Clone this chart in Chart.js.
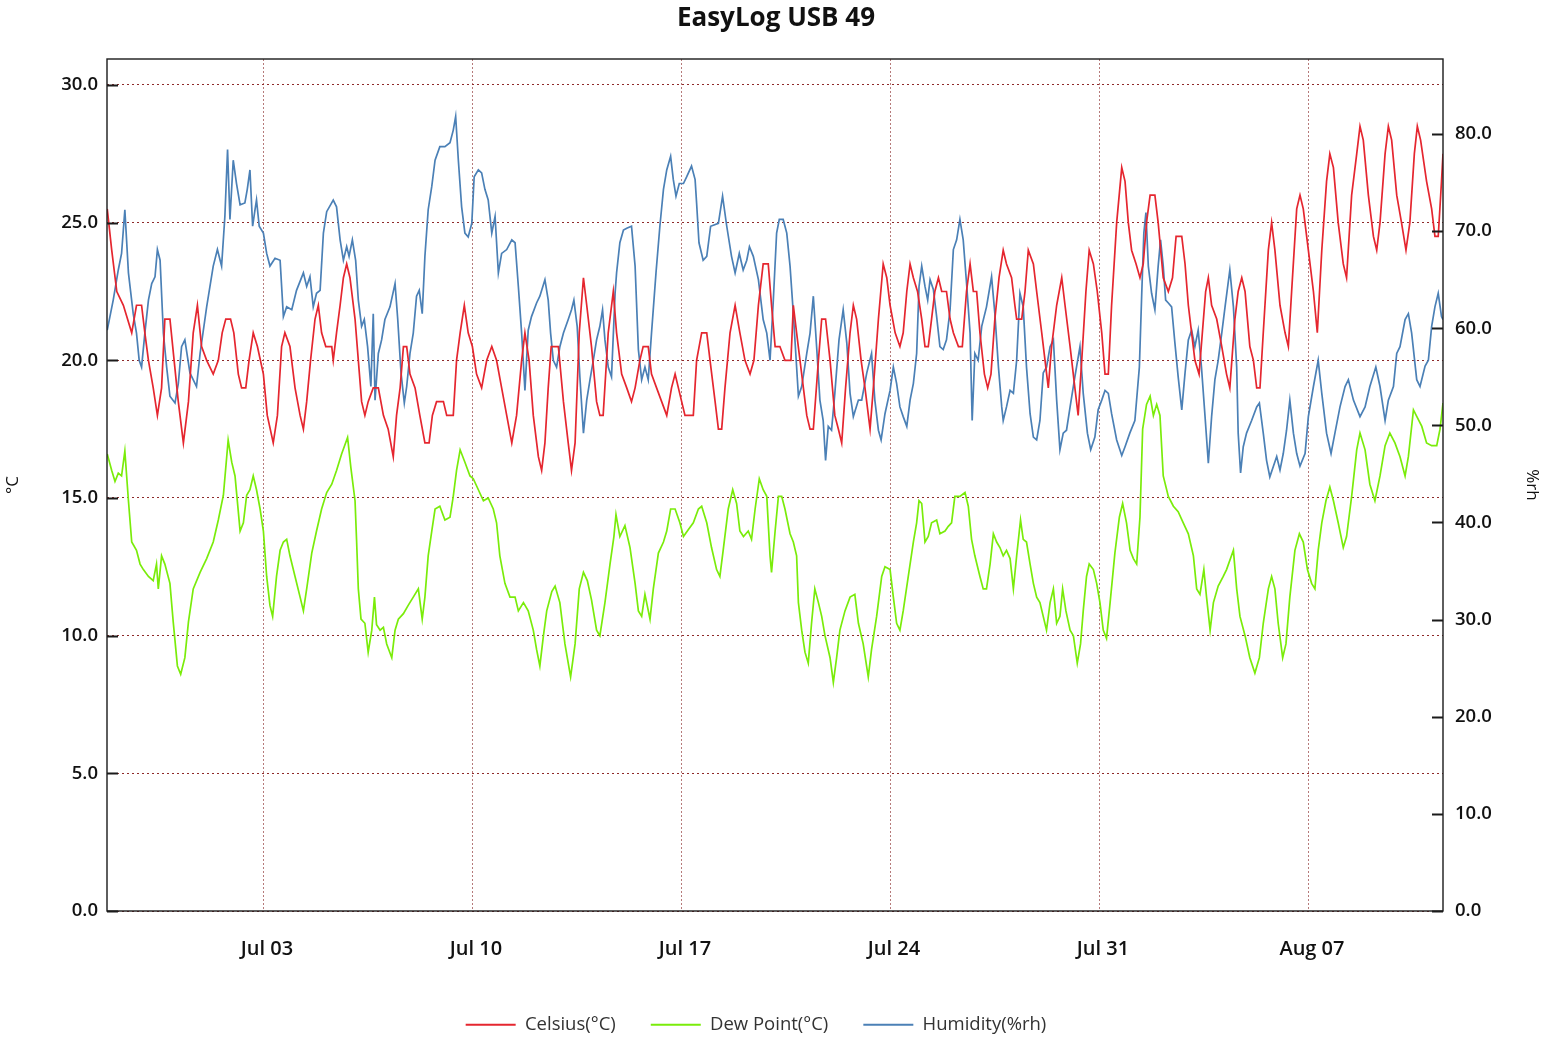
<!DOCTYPE html>
<html>
<head>
<meta charset="utf-8">
<title>EasyLog USB 49</title>
<script src="https://cdn.jsdelivr.net/npm/chart.js@4/dist/chart.umd.min.js"></script>
<style>
  html, body { margin: 0; padding: 0; background: #ffffff; }
  canvas { display: block; }
</style>
</head>
<body>
<canvas id="chart" width="1552" height="1048"></canvas>
<script>
// Time is given in days since 1 July 00:00 (Jul 03 00:00 = 2).
const xMin = -3.258;
const xMax = 41.49;
const tickDays = [2, 9, 16, 23, 30, 37];
const tickLabels = ['Jul 03', 'Jul 10', 'Jul 17', 'Jul 24', 'Jul 31', 'Aug 07'];
const tempTicks = [0, 5, 10, 15, 20, 25, 30];
const humidityTicks = [0, 10, 20, 30, 40, 50, 60, 70, 80];

// Celsius(°C)
const celsiusDays = [-3.25,-3.10,-2.93,-2.71,-2.43,-2.27,-2.10,-1.99,-1.87,-1.71,-1.57,-1.43,-1.32,-1.15,-1.01,-0.87,-0.70,-0.53,-0.37,-0.23,-0.09,0.08,0.30,0.47,0.60,0.72,0.88,0.99,1.14,1.25,1.39,1.50,1.64,1.78,1.98,2.11,2.31,2.45,2.59,2.70,2.87,3.04,3.21,3.32,3.43,3.56,3.71,3.82,3.93,4.07,4.27,4.32,4.43,4.55,4.66,4.77,4.88,5.05,5.16,5.27,5.38,5.49,5.66,5.83,6.00,6.16,6.33,6.44,6.56,6.67,6.78,6.89,7.06,7.22,7.39,7.53,7.64,7.78,8.01,8.12,8.34,8.45,8.57,8.71,8.84,8.98,9.12,9.29,9.46,9.63,9.79,9.96,10.13,10.30,10.46,10.63,10.74,10.88,11.02,11.19,11.30,11.41,11.52,11.62,11.86,12.03,12.19,12.30,12.42,12.56,12.70,12.81,12.97,13.14,13.25,13.36,13.53,13.70,13.81,13.98,14.15,14.31,14.43,14.59,14.70,14.87,14.98,15.15,15.32,15.49,15.65,15.77,15.88,15.99,16.10,16.38,16.49,16.66,16.83,16.94,17.11,17.22,17.33,17.44,17.61,17.78,17.94,18.11,18.28,18.41,18.56,18.72,18.89,19.00,19.12,19.28,19.45,19.65,19.73,19.84,20.01,20.18,20.29,20.40,20.57,20.68,20.81,20.96,21.12,21.24,21.35,21.48,21.63,21.74,21.85,22.00,22.13,22.30,22.41,22.58,22.74,22.86,22.97,23.14,23.30,23.41,23.53,23.64,23.75,23.89,24.03,24.14,24.25,24.36,24.47,24.59,24.70,24.86,24.98,25.09,25.26,25.39,25.53,25.65,25.76,25.87,25.98,26.13,26.24,26.35,26.48,26.62,26.76,26.87,27.04,27.15,27.21,27.38,27.49,27.60,27.77,27.88,28.05,28.16,28.27,28.38,28.55,28.72,28.83,29.00,29.16,29.27,29.39,29.53,29.64,29.78,29.91,30.06,30.17,30.28,30.39,30.56,30.73,30.84,30.95,31.06,31.21,31.34,31.45,31.56,31.68,31.84,31.95,32.12,32.29,32.43,32.55,32.74,32.85,32.96,33.07,33.18,33.32,33.43,33.54,33.63,33.74,33.91,34.08,34.24,34.35,34.52,34.63,34.75,34.86,35.02,35.14,35.25,35.36,35.47,35.64,35.75,35.86,36.03,36.20,36.31,36.42,36.59,36.70,36.81,36.98,37.15,37.28,37.43,37.59,37.70,37.82,37.98,38.15,38.26,38.43,38.60,38.71,38.82,38.99,39.16,39.27,39.38,39.55,39.66,39.77,39.94,40.10,40.25,40.38,40.53,40.63,40.74,40.94,41.11,41.22,41.33,41.44,41.49];
const celsiusValues = [25.5,24.0,22.5,22.0,21.0,22.0,22.0,21.0,20.0,19.0,18.0,19.0,21.5,21.5,20.0,18.5,17.0,18.5,21.0,22.0,20.5,20.0,19.5,20.0,21.0,21.5,21.5,21.0,19.5,19.0,19.0,20.0,21.0,20.5,19.5,18.0,17.0,18.0,20.5,21.0,20.5,19.0,18.0,17.5,18.5,20.0,21.5,22.0,21.0,20.5,20.5,20.0,21.0,22.0,23.0,23.5,23.0,21.5,20.0,18.5,18.0,18.5,19.0,19.0,18.0,17.5,16.5,18.0,19.0,20.5,20.5,19.5,19.0,18.0,17.0,17.0,18.0,18.5,18.5,18.0,18.0,20.0,21.0,22.0,21.0,20.5,19.5,19.0,20.0,20.5,20.0,19.0,18.0,17.0,18.0,20.0,21.0,20.0,18.0,16.5,16.0,17.0,19.0,20.5,20.5,18.5,17.0,16.0,17.0,21.0,23.0,22.0,20.5,18.5,18.0,18.0,21.0,22.5,21.0,19.5,19.0,18.5,19.0,20.0,20.5,20.5,19.5,19.0,18.5,18.0,19.0,19.5,19.0,18.5,18.0,18.0,20.0,21.0,21.0,20.0,18.5,17.5,17.5,19.0,21.0,22.0,21.0,20.0,19.5,20.0,22.0,23.5,23.5,22.0,20.5,20.5,20.0,20.0,22.0,21.0,19.5,18.0,17.5,17.5,20.0,21.5,21.5,20.0,18.0,17.5,17.0,19.0,21.0,22.0,21.5,20.0,19.0,17.5,19.0,21.5,23.5,23.0,22.0,21.0,20.5,21.0,22.5,23.5,23.0,22.5,21.5,20.5,20.5,21.5,22.5,23.0,22.5,22.5,21.5,21.0,20.5,20.5,22.5,23.5,22.5,22.5,21.0,19.5,19.0,19.5,21.5,23.0,24.0,23.5,23.0,22.0,21.5,21.5,22.5,24.0,23.5,22.5,21.0,20.0,19.0,20.5,22.0,23.0,22.0,20.5,19.0,18.0,20.0,22.5,24.0,23.5,22.5,21.0,19.5,19.5,22.0,25.0,27.0,26.5,25.0,24.0,23.5,23.0,23.5,25.0,26.0,26.0,25.0,23.0,22.5,23.0,24.5,24.5,23.5,22.0,21.0,20.0,19.5,21.0,22.5,23.0,22.0,21.5,20.5,19.5,19.0,21.5,22.5,23.0,22.5,20.5,20.0,19.0,19.0,21.0,24.0,25.0,24.0,22.0,21.0,20.5,22.5,25.5,26.0,25.5,24.0,22.5,21.0,24.0,26.5,27.5,27.0,25.0,23.5,23.0,26.0,27.5,28.5,28.0,26.0,24.5,24.0,25.0,27.5,28.5,28.0,26.0,25.0,24.0,25.0,27.5,28.5,28.0,26.5,25.5,24.5,24.5,26.5,27.5];

// Dew Point(°C)
const dewPointDays = [-3.25,-3.10,-2.99,-2.88,-2.77,-2.66,-2.54,-2.43,-2.27,-2.15,-2.04,-1.87,-1.71,-1.60,-1.54,-1.43,-1.32,-1.15,-1.04,-0.90,-0.79,-0.65,-0.53,-0.37,-0.14,0.08,0.30,0.47,0.64,0.80,0.92,1.03,1.20,1.31,1.42,1.53,1.64,1.75,1.87,1.98,2.09,2.20,2.29,2.42,2.54,2.65,2.76,2.87,3.04,3.21,3.32,3.43,3.60,3.76,3.93,4.10,4.27,4.43,4.60,4.80,4.91,5.05,5.10,5.16,5.25,5.38,5.49,5.61,5.70,5.77,5.89,6.00,6.11,6.28,6.39,6.50,6.67,6.83,7.00,7.17,7.30,7.39,7.50,7.62,7.73,7.89,8.06,8.23,8.34,8.45,8.57,8.73,8.90,9.01,9.18,9.35,9.51,9.68,9.79,9.90,10.07,10.24,10.41,10.52,10.69,10.85,11.02,11.13,11.24,11.36,11.47,11.64,11.75,11.91,12.08,12.27,12.42,12.56,12.70,12.83,12.97,13.14,13.25,13.42,13.59,13.72,13.79,13.92,14.09,14.26,14.43,14.54,14.65,14.76,14.93,15.04,15.21,15.38,15.49,15.62,15.77,15.93,16.05,16.21,16.38,16.55,16.66,16.83,16.99,17.16,17.27,17.38,17.55,17.70,17.83,17.94,18.06,18.22,18.33,18.45,18.59,18.72,18.84,18.95,19.00,19.12,19.23,19.34,19.45,19.62,19.73,19.84,19.90,20.01,20.12,20.23,20.34,20.45,20.57,20.68,20.79,20.96,21.07,21.18,21.29,21.46,21.63,21.79,21.91,22.07,22.24,22.35,22.52,22.69,22.80,22.97,23.08,23.19,23.30,23.41,23.58,23.75,23.86,23.94,24.03,24.14,24.25,24.36,24.53,24.64,24.81,24.92,25.03,25.14,25.31,25.48,25.59,25.70,25.81,25.98,26.09,26.20,26.32,26.43,26.54,26.65,26.76,26.87,26.99,27.10,27.21,27.34,27.43,27.54,27.66,27.77,27.88,27.99,28.10,28.21,28.33,28.44,28.55,28.66,28.75,28.86,29.00,29.11,29.24,29.35,29.44,29.55,29.64,29.78,29.89,30.00,30.11,30.22,30.34,30.50,30.65,30.76,30.89,31.01,31.12,31.23,31.34,31.43,31.56,31.68,31.79,31.90,32.01,32.12,32.29,32.46,32.62,32.79,32.96,33.13,33.24,33.35,33.48,33.57,33.69,33.80,33.96,34.13,34.24,34.47,34.58,34.69,34.86,35.02,35.19,35.34,35.47,35.64,35.75,35.86,35.97,36.12,36.23,36.36,36.53,36.68,36.81,36.95,37.09,37.20,37.31,37.43,37.57,37.70,37.82,37.98,38.15,38.26,38.43,38.60,38.71,38.88,39.04,39.21,39.38,39.55,39.71,39.88,40.05,40.22,40.33,40.50,40.61,40.78,40.94,41.11,41.28,41.39,41.49];
const dewPointValues = [16.6,16.0,15.6,15.9,15.8,16.7,14.9,13.4,13.1,12.6,12.4,12.15,12.0,12.6,11.7,12.9,12.6,11.9,10.5,8.9,8.6,9.2,10.5,11.7,12.3,12.8,13.4,14.2,15.1,17.1,16.3,15.8,13.8,14.1,15.1,15.3,15.8,15.3,14.6,13.8,12.15,11.1,10.7,12.15,13.1,13.4,13.5,12.9,12.15,11.4,10.9,11.7,13.0,13.8,14.6,15.2,15.5,16.0,16.6,17.2,16.1,14.9,13.5,11.7,10.6,10.45,9.4,10.2,11.4,10.4,10.2,10.3,9.7,9.2,10.2,10.6,10.8,11.1,11.4,11.7,10.6,11.4,12.9,13.8,14.6,14.7,14.2,14.3,15.06,16.0,16.75,16.3,15.8,15.7,15.3,14.9,15.0,14.6,14.1,12.9,11.9,11.4,11.4,10.9,11.2,10.9,10.2,9.5,8.9,10.0,10.9,11.6,11.8,11.2,9.7,8.5,9.7,11.7,12.3,12.0,11.3,10.2,10.0,11.2,12.6,13.6,14.4,13.6,14.0,13.2,11.9,10.9,10.7,11.5,10.6,11.7,13.0,13.4,13.8,14.6,14.6,14.1,13.6,13.85,14.1,14.6,14.7,14.1,13.2,12.4,12.15,13.1,14.6,15.3,14.8,13.8,13.6,13.8,13.5,14.6,15.7,15.3,15.06,12.9,12.3,13.8,15.06,15.06,14.6,13.7,13.4,12.9,11.2,10.2,9.4,9.0,10.45,11.7,11.2,10.7,10.0,9.2,8.3,9.2,10.2,10.9,11.4,11.5,10.45,9.7,8.5,9.5,10.7,12.15,12.5,12.4,11.4,10.45,10.2,10.9,12.15,13.4,14.1,14.9,14.8,13.4,13.6,14.1,14.2,13.7,13.8,13.97,14.1,15.06,15.06,15.2,14.7,13.5,12.9,12.15,11.7,11.7,12.6,13.7,13.4,13.2,12.9,13.1,12.8,11.7,12.9,14.2,13.5,13.4,12.6,11.9,11.4,11.2,10.7,10.2,11.2,11.7,10.45,10.7,11.7,10.9,10.2,10.0,9.0,9.7,10.9,12.15,12.6,12.4,11.9,11.2,10.2,9.9,11.2,13.0,14.3,14.8,14.1,13.1,12.8,12.6,14.3,17.5,18.4,18.7,18.0,18.4,18.0,15.8,15.06,14.7,14.5,14.1,13.7,12.9,11.7,11.5,12.4,11.4,10.2,11.2,11.8,12.15,12.4,13.1,11.7,10.7,10.0,9.2,8.64,9.2,10.45,11.7,12.15,11.7,10.45,9.2,9.7,11.4,13.1,13.7,13.4,12.4,11.9,11.7,13.1,14.1,14.9,15.4,14.9,14.1,13.2,13.6,15.06,16.75,17.36,16.75,15.5,14.9,15.8,16.9,17.36,17.0,16.5,15.8,16.5,18.2,17.96,17.6,17.0,16.9,16.9,17.5,18.45];

// Humidity(%rh)
const humidityDays = [-3.25,-3.05,-2.88,-2.77,-2.66,-2.54,-2.38,-2.27,-2.18,-2.10,-1.99,-1.87,-1.76,-1.65,-1.57,-1.48,-1.37,-1.26,-1.15,-0.98,-0.87,-0.76,-0.65,-0.48,-0.26,-0.14,0.08,0.30,0.44,0.58,0.69,0.78,0.86,0.97,1.08,1.20,1.36,1.44,1.53,1.62,1.70,1.75,1.84,1.98,2.09,2.20,2.37,2.54,2.65,2.76,2.93,3.09,3.32,3.43,3.54,3.65,3.76,3.88,3.99,4.10,4.32,4.43,4.55,4.66,4.77,4.85,4.96,5.07,5.16,5.27,5.36,5.47,5.58,5.66,5.72,5.83,5.94,6.05,6.22,6.39,6.48,6.59,6.70,6.78,6.89,7.00,7.11,7.20,7.30,7.39,7.50,7.62,7.73,7.89,8.06,8.23,8.34,8.42,8.51,8.62,8.73,8.84,8.96,9.04,9.18,9.29,9.40,9.51,9.63,9.74,9.85,9.96,10.13,10.30,10.41,10.52,10.63,10.74,10.85,10.96,11.13,11.24,11.41,11.52,11.60,11.69,11.80,11.91,12.03,12.19,12.30,12.38,12.49,12.58,12.70,12.81,12.92,13.03,13.14,13.25,13.34,13.42,13.53,13.64,13.76,13.81,13.92,14.04,14.15,14.31,14.43,14.54,14.65,14.76,14.87,14.98,15.13,15.26,15.38,15.49,15.62,15.71,15.80,15.91,16.05,16.16,16.32,16.44,16.49,16.57,16.71,16.83,16.96,17.22,17.36,17.50,17.66,17.78,17.92,18.05,18.17,18.26,18.39,18.56,18.72,18.84,18.95,19.06,19.17,19.26,19.39,19.51,19.62,19.73,19.79,19.90,20.01,20.18,20.29,20.40,20.51,20.62,20.73,20.81,20.90,21.01,21.12,21.26,21.40,21.52,21.63,21.74,21.91,22.02,22.19,22.35,22.46,22.58,22.67,22.80,22.97,23.08,23.19,23.30,23.41,23.53,23.64,23.75,23.86,23.94,24.03,24.14,24.23,24.31,24.42,24.53,24.64,24.75,24.86,24.98,25.09,25.20,25.31,25.42,25.54,25.65,25.72,25.81,25.92,26.04,26.20,26.37,26.48,26.60,26.71,26.76,26.87,26.99,27.10,27.21,27.32,27.43,27.54,27.66,27.77,27.88,27.99,28.10,28.21,28.33,28.44,28.55,28.66,28.77,28.88,29.00,29.16,29.33,29.44,29.58,29.69,29.83,29.94,30.06,30.17,30.28,30.39,30.56,30.73,30.84,31.00,31.17,31.32,31.40,31.47,31.54,31.62,31.73,31.84,31.95,32.03,32.12,32.20,32.29,32.40,32.51,32.62,32.74,32.85,32.96,33.07,33.18,33.29,33.40,33.52,33.63,33.74,33.85,33.96,34.08,34.19,34.35,34.47,34.58,34.63,34.71,34.80,34.91,35.08,35.25,35.34,35.47,35.58,35.69,35.81,35.92,36.03,36.14,36.25,36.36,36.48,36.59,36.70,36.87,36.98,37.15,37.31,37.43,37.59,37.74,37.87,38.04,38.21,38.32,38.49,38.71,38.88,39.04,39.24,39.38,39.55,39.66,39.83,39.94,40.05,40.22,40.33,40.44,40.61,40.72,40.89,41.00,41.11,41.22,41.33,41.44,41.49];
const humidityValues = [59.8,62.9,66.0,67.7,72.2,65.7,61.5,59.5,56.7,56.0,59.5,62.9,64.6,65.3,68.1,67.0,59.5,56.0,53.0,52.3,54.3,58.1,58.8,55.4,54.0,57.4,62.2,66.4,68.1,66.4,71.5,78.4,71.2,77.3,74.9,72.7,72.9,74.3,76.3,70.5,72.2,73.2,70.5,69.8,67.7,66.4,67.2,67.0,61.2,62.2,61.9,63.9,65.7,64.3,65.3,62.2,63.6,63.9,69.8,72.0,73.2,72.5,69.1,67.0,68.4,67.4,69.1,67.0,62.9,60.2,60.9,58.1,54.0,61.5,52.6,57.4,58.8,60.9,62.2,64.6,60.9,55.4,52.3,54.0,57.4,59.5,63.3,63.9,61.5,67.4,72.2,74.6,77.3,78.7,78.7,79.1,80.4,81.8,77.3,72.5,69.8,69.4,70.8,75.6,76.3,76.0,74.3,73.2,69.8,71.5,65.7,67.7,68.1,69.1,68.8,64.3,59.5,53.6,59.8,61.2,62.6,63.3,65.0,62.9,59.5,56.7,56.0,58.1,59.5,60.9,61.9,62.9,60.2,55.0,49.2,52.6,54.7,56.7,58.8,60.2,61.9,58.8,56.0,55.0,63.6,65.7,68.8,70.1,70.3,70.5,66.4,57.8,54.7,56.0,54.7,59.5,65.7,70.5,74.3,76.3,77.7,75.3,73.6,74.9,74.9,75.6,76.7,75.3,72.9,68.8,67.0,67.4,70.5,70.8,73.6,70.5,67.4,65.7,67.7,66.0,67.0,68.4,67.4,65.0,60.9,59.5,56.7,62.9,69.8,71.2,71.2,69.8,66.4,61.5,58.5,53.0,54.0,57.4,59.5,63.3,58.1,52.6,50.5,46.4,49.9,49.5,53.3,58.8,61.9,58.5,53.3,50.9,52.6,52.6,55.4,57.4,52.6,49.5,48.5,51.2,53.6,56.0,54.3,51.9,50.9,49.9,52.6,54.3,57.4,64.3,66.4,64.3,62.9,65.0,64.0,61.2,58.1,57.8,58.8,61.9,68.1,69.1,71.2,69.1,64.3,59.5,50.5,57.4,56.7,60.2,62.2,65.3,61.5,56.0,51.9,50.5,51.9,53.6,53.3,56.7,63.6,62.2,56.0,51.2,48.8,48.5,50.5,55.4,56.0,58.1,58.8,52.6,47.5,49.2,49.5,51.9,55.0,58.1,53.3,49.2,47.5,48.8,51.6,52.6,53.6,53.3,51.2,48.5,46.9,47.8,49.2,50.5,56.0,63.6,69.8,71.9,66.4,63.6,61.9,66.4,69.1,66.4,62.9,62.6,62.2,58.5,55.0,51.6,55.4,58.8,59.8,58.1,59.8,56.0,50.9,46.1,50.9,54.7,56.7,59.5,62.2,66.0,62.2,56.0,49.2,45.1,47.8,49.2,50.5,51.9,52.3,49.2,46.4,44.7,45.8,46.8,45.4,47.1,49.5,52.6,49.2,47.1,45.8,47.1,50.9,54.0,56.7,53.3,49.2,47.1,49.2,51.9,54.0,54.7,52.6,50.9,51.9,54.0,56.0,54.0,50.5,52.6,54.0,57.4,58.1,60.9,61.5,59.5,54.7,54.0,56.1,56.7,60.2,62.2,63.6,61.2,60.9];

const toPoints = (days, values) => days.map((d, i) => ({ x: d, y: values[i] }));

const FONT = "'Open Sans', 'DejaVu Sans', sans-serif";

// Box round the plot area plus short inward tick marks on both value axes.
const frameAndTicks = {
  id: 'frameAndTicks',
  afterDatasetsDraw(chart) {
    const { ctx, chartArea: a, scales } = chart;
    ctx.save();
    ctx.strokeStyle = '#1b1b1b';
    ctx.lineWidth = 1.4;
    ctx.strokeRect(a.left, a.top, a.right - a.left, a.bottom - a.top);
    ctx.beginPath();
    scales.y.ticks.forEach(t => {
      const y = Math.round(scales.y.getPixelForValue(t.value)) + 0.5;
      ctx.moveTo(a.left, y);
      ctx.lineTo(a.left + 11, y);
    });
    scales.y1.ticks.forEach(t => {
      const y = Math.round(scales.y1.getPixelForValue(t.value)) + 0.5;
      ctx.moveTo(a.right - 11, y);
      ctx.lineTo(a.right, y);
    });
    ctx.lineWidth = 2;
    ctx.stroke();
    ctx.restore();
  }
};

// Nudge the legend row a little to the left of the canvas centre.
const legendShift = {
  id: 'legendShift',
  afterLayout(chart) {
    const lg = chart.legend;
    if (lg) {
      lg.left -= 20;
      lg.right -= 20;
    }
  }
};

new Chart(document.getElementById('chart'), {
  type: 'line',
  data: {
    datasets: [
      {
        label: 'Celsius(°C)',
        data: toPoints(celsiusDays, celsiusValues),
        borderColor: '#e5262f',
        backgroundColor: '#e5262f',
        borderWidth: 1.7,
        yAxisID: 'y'
      },
      {
        label: 'Dew Point(°C)',
        data: toPoints(dewPointDays, dewPointValues),
        borderColor: '#7aec0a',
        backgroundColor: '#7aec0a',
        borderWidth: 1.7,
        yAxisID: 'y'
      },
      {
        label: 'Humidity(%rh)',
        data: toPoints(humidityDays, humidityValues),
        borderColor: '#4b80b6',
        backgroundColor: '#4b80b6',
        borderWidth: 1.7,
        yAxisID: 'y1'
      }
    ]
  },
  options: {
    responsive: false,
    devicePixelRatio: 1,
    animation: false,
    parsing: false,
    layout: { padding: { left: 0, right: 0, top: 0, bottom: 4 } },
    elements: {
      point: { radius: 0, hoverRadius: 0 },
      line: { tension: 0 }
    },
    plugins: {
      title: {
        display: true,
        text: 'EasyLog USB 49',
        color: '#111111',
        font: { family: FONT, size: 26, weight: 'bold' },
        padding: { top: 3, bottom: 24.8 }
      },
      legend: {
        position: 'bottom',
        labels: {
          boxWidth: 50,
          boxHeight: 2,
          padding: 35,
          color: '#333333',
          font: { family: FONT, size: 18.5 },
          generateLabels: chart =>
            Chart.defaults.plugins.legend.labels.generateLabels(chart).map(l => ({
              ...l,
              lineWidth: 0,
              fillStyle: l.strokeStyle
            }))
        }
      },
      tooltip: { enabled: false }
    },
    scales: {
      x: {
        type: 'linear',
        min: xMin,
        max: xMax,
        afterBuildTicks: scale => {
          scale.ticks = tickDays.map(v => ({ value: v }));
        },
        afterFit: scale => { scale.height = 69.5; },
        ticks: {
          autoSkip: false,
          maxRotation: 0,
          padding: 26,
          labelOffset: 3,
          color: '#111111',
          font: { family: FONT, size: 20, weight: '600' },
          callback: (value, index) => tickLabels[index]
        },
        grid: { color: '#b67a7a', lineWidth: 1, drawTicks: false },
        border: { display: false, dash: [2, 2] }
      },
      y: {
        position: 'left',
        min: 0,
        max: 30.944,
        afterBuildTicks: scale => {
          scale.ticks = tempTicks.map(v => ({ value: v }));
        },
        afterFit: scale => { scale.width = 107; },
        ticks: {
          padding: 9,
          color: '#111111',
          font: { family: FONT, size: 18.5, weight: '600' },
          callback: value => Number(value).toFixed(1)
        },
        grid: { color: '#8e2a2a', lineWidth: 1, drawTicks: false },
        border: { display: false, dash: [2, 3] },
        title: {
          display: true,
          text: '°C',
          color: '#111111',
          font: { family: FONT, size: 17 },
          padding: { top: 3, bottom: 0 }
        }
      },
      y1: {
        position: 'right',
        min: 0,
        max: 87.72,
        afterBuildTicks: scale => {
          scale.ticks = humidityTicks.map(v => ({ value: v }));
        },
        afterFit: scale => { scale.width = 109; },
        ticks: {
          padding: 12,
          color: '#111111',
          font: { family: FONT, size: 18.5, weight: '600' },
          callback: value => Number(value).toFixed(1)
        },
        grid: { display: false, drawTicks: false },
        border: { display: false },
        title: {
          display: true,
          text: '%rh',
          color: '#111111',
          font: { family: FONT, size: 17 },
          padding: { top: 10, bottom: 0 }
        }
      }
    }
  },
  plugins: [frameAndTicks, legendShift]
});
</script>
</body>
</html>
